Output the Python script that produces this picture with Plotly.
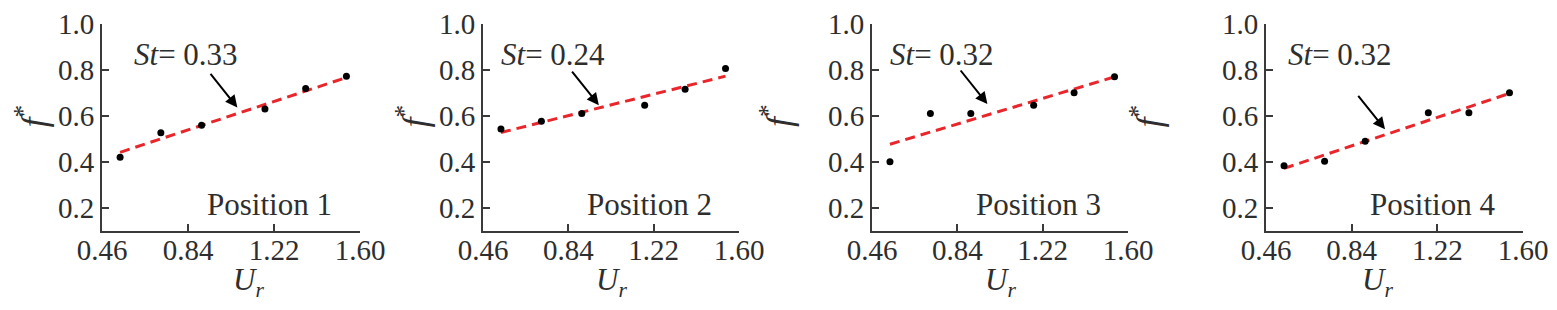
import plotly.graph_objects as go
from plotly.subplots import make_subplots

# ---- data ----
ur = [0.54, 0.72, 0.90, 1.18, 1.36, 1.54]
f_pos1 = [0.418, 0.525, 0.558, 0.628, 0.717, 0.771]
f_pos2 = [0.541, 0.575, 0.609, 0.645, 0.714, 0.804]
f_pos3 = [0.399, 0.609, 0.609, 0.645, 0.699, 0.768]
f_pos4 = [0.381, 0.401, 0.488, 0.612, 0.612, 0.699]
fit_x = [0.54, 1.54]
fit_pos1 = [0.440, 0.765]
fit_pos2 = [0.526, 0.771]
fit_pos3 = [0.475, 0.768]
fit_pos4 = [0.370, 0.696]
st_labels = ["0.33", "0.24", "0.32", "0.32"]
position_labels = ["Position 1", "Position 2", "Position 3", "Position 4"]
x_ticks = [0.46, 0.84, 1.22, 1.60]
x_ticklabels = ["0.46", "0.84", "1.22", "1.60"]
y_ticks = [0.2, 0.4, 0.6, 0.8, 1.0]
y_ticklabels = ["0.2", "0.4", "0.6", "0.8", "1.0"]

f_all = [f_pos1, f_pos2, f_pos3, f_pos4]
fit_all = [fit_pos1, fit_pos2, fit_pos3, fit_pos4]

W, H = 1557, 310
FONT = "Liberation Serif, Times New Roman, serif"
TXT = "#2e2e2e"
AX = "#3a3a3a"
RED = "#e8262b"

# pixel layout of each panel (axis line left -> right end)
x_px = [(102, 360), (483, 739), (872, 1128), (1266, 1523)]
y_top_px, y_bot_px = 23.5, 230.5

fig = make_subplots(rows=1, cols=4)

for i in range(4):
    fig.add_trace(go.Scatter(x=fit_x, y=fit_all[i], mode="lines",
                             line=dict(color=RED, width=3, dash="10px,6px"),
                             showlegend=False, hoverinfo="skip"),
                  row=1, col=i + 1)
    fig.add_trace(go.Scatter(x=ur, y=f_all[i], mode="markers",
                             marker=dict(color="black", size=7),
                             showlegend=False),
                  row=1, col=i + 1)

# annotation positions (layout, not data)
st_pos = [(0.83, 0.865), (0.772, 0.865), (0.770, 0.865), (0.787, 0.865)]
arrow_heads = [(1.058, 0.635), (0.976, 0.645), (0.974, 0.650), (0.988, 0.540)]
arrow_off = [(-28, -35), (-28, -35), (-28, -35), (-28, -35)]

annotations = []
for i in range(4):
    k = "" if i == 0 else str(i + 1)
    x0, x1 = x_px[i]
    fig.layout["xaxis" + k].update(
        domain=[x0 / W, x1 / W], range=[0.46, 1.60], automargin=False,
        tickvals=x_ticks, ticktext=x_ticklabels, ticklabelstandoff=-7,
        showline=True, linecolor=AX, linewidth=2,
        ticks="inside", ticklen=7, tickwidth=2, tickcolor=AX,
        showgrid=False, zeroline=False,
        tickfont=dict(family=FONT, size=29, color=TXT))
    fig.layout["yaxis" + k].update(
        domain=[1 - y_bot_px / H, 1 - y_top_px / H], range=[0.1, 1.0],
        automargin=False,
        tickvals=y_ticks, ticktext=y_ticklabels,
        showline=True, linecolor=AX, linewidth=2,
        ticks="inside", ticklen=7, tickwidth=2, tickcolor=AX,
        showgrid=False, zeroline=False,
        tickfont=dict(family=FONT, size=29, color=TXT))
    xr, yr = "x" + k, "y" + k
    sx, sy = st_pos[i]
    annotations.append(dict(xref=xr, yref=yr, x=sx, y=sy,
                            text="<i>St</i>= " + st_labels[i], showarrow=False,
                            font=dict(family=FONT, size=31, color=TXT)))
    hx, hy = arrow_heads[i]
    ax_, ay_ = arrow_off[i]
    annotations.append(dict(xref=xr, yref=yr, x=hx, y=hy, ax=ax_, ay=ay_,
                            text="", showarrow=True, arrowhead=2, arrowsize=1.2,
                            arrowwidth=2, arrowcolor="black"))
    annotations.append(dict(xref=xr, yref=yr, x=1.20, y=0.215,
                            text=position_labels[i], showarrow=False,
                            font=dict(family=FONT, size=31, color=TXT)))
    # axis titles
    annotations.append(dict(xref="paper", yref="paper",
                            x=(x0 - 96) / W, y=1 - 116 / H,
                            text="<i>f</i><sup>*</sup>", textangle=-90,
                            showarrow=False,
                            font=dict(family=FONT, size=36, color=TXT)))
    annotations.append(dict(xref="paper", yref="paper",
                            x=(x0 + x1) / 2 / W, y=1 - 304 / H,
                            text="<i>U<sub>r</sub></i>",
                            showarrow=False,
                            font=dict(family=FONT, size=31, color=TXT)))

fig.update_layout(width=W, height=H, margin=dict(l=0, r=0, t=0, b=0, pad=0),
                  template="none",
                  plot_bgcolor="white", paper_bgcolor="white",
                  annotations=annotations, showlegend=False)

fig.write_html("out.html", config={"displayModeBar": False},
               post_script="document.body.style.margin='0';"
                           "document.body.style.overflow='hidden';")
